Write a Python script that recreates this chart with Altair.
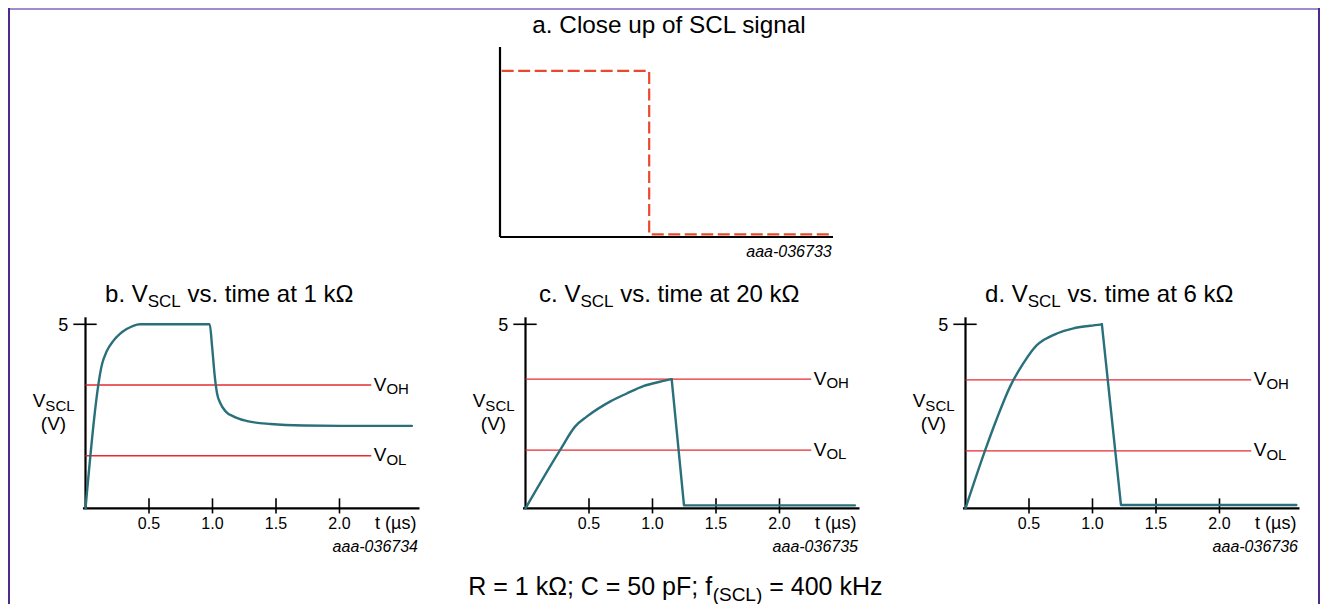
import altair as alt
import pandas as pd

# ---------------- data ----------------
# a. close-up of the SCL signal (normalised units)
a_x = [0.005, 0.448, 0.448, 0.996]
a_y = [0.874, 0.874, 0.014, 0.014]

# b. VSCL vs time at 1 kOhm
b_t = [0, 0.132, 0.166, 0.219, 0.271, 0.324, 0.376, 0.43, 0.978, 0.997, 1.018,
       1.036, 1.063, 1.102, 1.168, 1.273, 1.457, 1.72, 2.11, 2.57]
b_v = [0, 3.94, 4.26, 4.55, 4.74, 4.87, 4.96, 5.0, 5.0, 4.39, 3.58,
       3.12, 2.85, 2.64, 2.49, 2.37, 2.29, 2.25, 2.24, 2.24]
b_ref = [3.35, 1.43]

# c. VSCL vs time at 20 kOhm
c_t = [0, 0.272, 0.39, 0.482, 0.665, 0.797, 0.928, 1.059, 1.151, 1.248, 2.594]
c_v = [0, 1.58, 2.22, 2.49, 2.9, 3.12, 3.32, 3.44, 3.51, 0.08, 0.08]
c_ref = [3.51, 1.58]

# d. VSCL vs time at 6 kOhm
d_t = [0, 0.153, 0.245, 0.35, 0.455, 0.56, 0.614, 0.719, 0.85, 0.982, 1.074, 1.224, 2.605]
d_v = [0, 1.56, 2.42, 3.3, 3.94, 4.43, 4.57, 4.75, 4.89, 4.96, 5.0, 0.09, 0.09]
d_ref = [3.49, 1.56]

ref_names = ["OH", "OL"]
tick_vals = [0.5, 1.0, 1.5, 2.0]
tick_labels = ["0.5", "1.0", "1.5", "2.0"]

titles = [("b. V", "SCL", "vs. time at 1 k\u03a9"),
          ("c. V", "SCL", "vs. time at 20 k\u03a9"),
          ("d. V", "SCL", "vs. time at 6 k\u03a9")]
codes = ["aaa-036734", "aaa-036735", "aaa-036736"]

# ---------------- style ----------------
FONT = "Liberation Sans"
TEAL = "#29707b"
RED = "#e62a2f"
DASH_RED = "#e84a2f"
W, H = 1312, 596

ARIAL = {' ': 278, '(': 333, ')': 333, '-': 333, '.': 278, ';': 278, '=': 584,
         'C': 722, 'H': 722, 'L': 556, 'O': 778, 'R': 722, 'S': 667, 'V': 667, 'F': 611,
         'a': 556, 'b': 556, 'c': 500, 'd': 556, 'e': 556, 'f': 278, 'g': 556, 'h': 556,
         'i': 222, 'k': 500, 'l': 222, 'm': 833, 'n': 556, 'o': 556, 'p': 556, 's': 500,
         't': 278, 'u': 556, 'v': 500, 'z': 500, '\u03a9': 768, '\u00b5': 576}


def tw(s, size):
    return sum(ARIAL.get(ch, 556) for ch in s) / 1000.0 * size


ONE = alt.Data(values=[{}])


def txt(s, x, y, size, align="left", style="normal", baseline="alphabetic"):
    return alt.Chart(ONE).mark_text(
        text=s, font=FONT, fontSize=size, align=align, baseline=baseline,
        fontStyle=style, color="black"
    ).encode(x=alt.value(x), y=alt.value(y))


def sub_text(parts, x0, y0, big, small, sub_dy):
    """parts = (main, sub, rest); returns layers and total width"""
    main, sub, rest = parts
    layers = []
    x = x0
    layers.append(txt(main, x, y0, big))
    x += tw(main, big)
    layers.append(txt(sub, x, y0 + sub_dy, small))
    x += tw(sub, small)
    if rest:
        x += tw(" ", big)
        layers.append(txt(rest, x, y0, big))
        x += tw(rest, big)
    return layers, x - x0


def v_panel(off, t, v, ref, title, code, split):
    xs = alt.Scale(domain=[0, 2.63], range=[77.5 + off, 411.5 + off], nice=False, zero=False)
    ys = alt.Scale(domain=[0, 5], range=[500.3, 316.3], nice=False, zero=False)

    def X(f):
        return alt.X(f, type="quantitative", scale=xs, axis=None)

    def Y(f):
        return alt.Y(f, type="quantitative", scale=ys, axis=None)

    def XD(d):
        return alt.XDatum(d, scale=xs, axis=None)

    def YD(d):
        return alt.YDatum(d, scale=ys, axis=None)

    ref_df = pd.DataFrame({"name": ref_names, "v": ref})
    tick_df = pd.DataFrame({"tick": tick_vals, "label": tick_labels})
    top_df = pd.DataFrame({"v": [5], "label": ["5"]})

    # curve pieces: smooth rise (monotone) and sharp fall (linear)
    if split is None:
        curves = [(pd.DataFrame({"t": t, "v": v, "i": list(range(len(t)))}), "monotone")]
    else:
        curves = [
            (pd.DataFrame({"t": t[:split + 1], "v": v[:split + 1],
                           "i": list(range(split + 1))}), "monotone"),
            (pd.DataFrame({"t": t[split:], "v": v[split:],
                           "i": list(range(len(t) - split))}), "linear"),
        ]

    layers = [
        # axes
        alt.Chart(ONE).mark_rule(color="black", strokeWidth=2.2).encode(
            x=XD(0), y=YD(0), y2=alt.Y2Datum(5.19)),
        alt.Chart(ONE).mark_rule(color="black", strokeWidth=2.2).encode(
            x=XD(-0.02), x2=alt.X2Datum(2.63), y=YD(0)),
        # x ticks & labels
        alt.Chart(tick_df).mark_rule(color="black", strokeWidth=1.6).encode(
            x=X("tick"), y=YD(-0.14), y2=alt.Y2Datum(0.27)),
        alt.Chart(tick_df).mark_text(font=FONT, fontSize=16, align="center", dy=21,
                                     baseline="alphabetic").encode(
            x=X("tick"), y=YD(0), text="label:N"),
        # y tick at 5
        alt.Chart(top_df).mark_rule(color="black", strokeWidth=1.6).encode(
            x=XD(-0.096), x2=alt.X2Datum(0.088), y=Y("v")),
        alt.Chart(top_df).mark_text(font=FONT, fontSize=18, align="right", dx=-5, dy=7,
                                    baseline="alphabetic").encode(
            x=XD(-0.096), y=Y("v"), text="label:N"),
        # x axis title
        alt.Chart(ONE).mark_text(font=FONT, fontSize=18, align="left", dy=21,
                                 baseline="alphabetic", text="t (\u00b5s)").encode(
            x=XD(2.28), y=YD(0)),
        # reference lines
        alt.Chart(ref_df).mark_rule(color=RED, strokeWidth=1.4).encode(
            x=XD(0), x2=alt.X2Datum(2.25), y=Y("v")),
        alt.Chart(ref_df).mark_text(font=FONT, fontSize=19, align="left", dy=5.5,
                                    baseline="alphabetic", text="V").encode(
            x=XD(2.27), y=Y("v")),
        alt.Chart(ref_df).mark_text(font=FONT, fontSize=15, align="left", dy=9,
                                    dx=tw("V", 19), baseline="alphabetic").encode(
            x=XD(2.27), y=Y("v"), text="name:N"),
    ]
    for df, interp in curves:
        layers.append(
            alt.Chart(df).mark_line(color=TEAL, strokeWidth=2.4, strokeJoin="round",
                                    strokeCap="round", interpolate=interp).encode(
                x=X("t"), y=Y("v"), order="i:Q"))
    panel = alt.layer(*layers)

    deco = []
    # y-axis label V_SCL (V)
    l1, _ = sub_text(("V", "SCL", ""), 24.7 + off, 398.7, 19, 15, 4.5)
    deco += l1
    deco.append(txt("(V)", 45.5 + off, 421.5, 19, align="center"))
    # title
    total = tw(title[0], 24) + tw(title[1], 17) + tw(" " + title[2], 24)
    l2, _ = sub_text(title, 221.5 + off - total / 2, 294, 24, 17, 5)
    deco += l2
    # code label
    deco.append(txt(code, 410 + off, 544, 16, align="right", style="italic"))
    return panel, deco


# panel a
xs_a = alt.Scale(domain=[0, 1], range=[492, 825], nice=False, zero=False)
ys_a = alt.Scale(domain=[0, 1], range=[229, 39], nice=False, zero=False)
a_df = pd.DataFrame({"x": a_x, "y": a_y, "i": list(range(len(a_x)))})
panel_a = alt.layer(
    alt.Chart(ONE).mark_rule(color="black", strokeWidth=2.2).encode(
        x=alt.XDatum(0, scale=xs_a, axis=None), y=alt.YDatum(0, scale=ys_a, axis=None),
        y2=alt.Y2Datum(1)),
    alt.Chart(ONE).mark_rule(color="black", strokeWidth=2.2).encode(
        x=alt.XDatum(0, scale=xs_a, axis=None), x2=alt.X2Datum(1),
        y=alt.YDatum(0, scale=ys_a, axis=None)),
    alt.Chart(a_df).mark_line(color=DASH_RED, strokeWidth=2.2, strokeDash=[12, 4.5]).encode(
        x=alt.X("x:Q", scale=xs_a, axis=None), y=alt.Y("y:Q", scale=ys_a, axis=None),
        order="i:Q"),
)

deco_all = [
    txt("a. Close up of SCL signal", 661, 25, 24.3, align="center"),
    txt("aaa-036733", 823.7, 249, 16, align="right", style="italic"),
]

panels = [panel_a]
for off, t, v, ref, title, code, split in zip(
        [0, 440, 880], [b_t, c_t, d_t], [b_v, c_v, d_v],
        [b_ref, c_ref, d_ref], titles, codes, [None, 8, 10]):
    p, d = v_panel(off, t, v, ref, title, code, split)
    panels.append(p)
    deco_all += d

# caption
cap, _ = sub_text(("R = 1 k\u03a9; C = 50 pF; f", "(SCL)", "= 400 kHz"), 460.3, 587, 25, 19, 5.5)
deco_all += cap

# frame
frame = [
    alt.Chart(ONE).mark_rule(color="#a08ad0", strokeWidth=2).encode(
        x=alt.value(0), x2=alt.value(W), y=alt.value(1)),
    alt.Chart(ONE).mark_rule(color="#4f2a88", strokeWidth=2).encode(
        x=alt.value(1), y=alt.value(0), y2=alt.value(H)),
    alt.Chart(ONE).mark_rule(color="#4f2a88", strokeWidth=2).encode(
        x=alt.value(W - 1), y=alt.value(0), y2=alt.value(H)),
]

chart = alt.layer(*panels, *deco_all, *frame).resolve_scale(
    x="independent", y="independent"
).properties(
    width=W, height=H, padding=0, autosize=alt.AutoSizeParams(type="none"),
    background="white"
).configure_view(stroke=None)

chart.save("out.html", embed_options={"renderer": "svg", "actions": False})
